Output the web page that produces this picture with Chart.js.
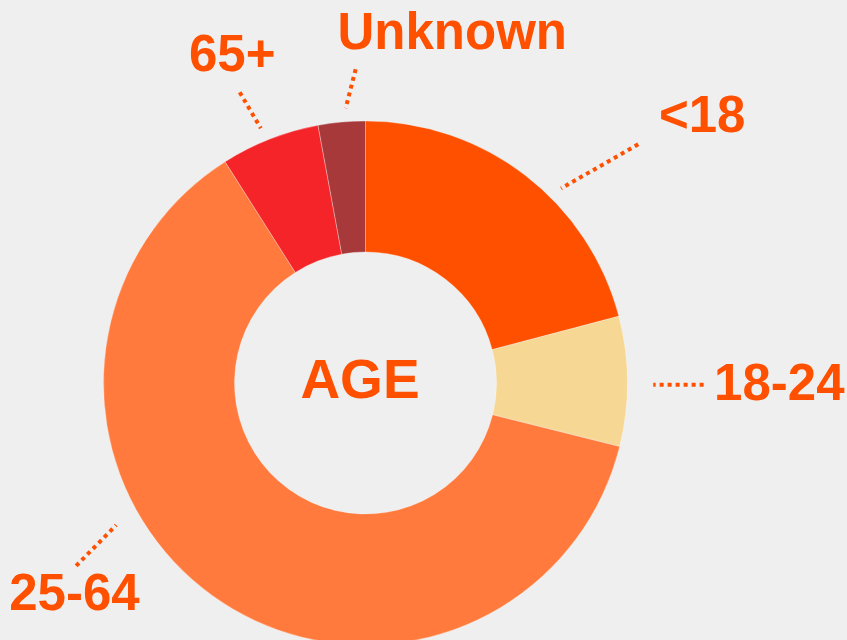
<!DOCTYPE html>
<html>
<head>
<meta charset="utf-8">
<script src="https://cdn.jsdelivr.net/npm/chart.js@4/dist/chart.umd.min.js"></script>
<style>
  html, body { margin: 0; padding: 0; background: #efefef; overflow: hidden; width: 847px; height: 640px; }
  #wrap { position: absolute; left: 0; top: 0; width: 847px; height: 662px; }
</style>
</head>
<body>
<div id="wrap"><canvas id="c"></canvas></div>
<script>
// ---- data ----
const categories = ['<18', '18-24', '25-64', '65+', 'Unknown'];
const shares = [20.9, 8.0, 62.1, 6.1, 2.9];
const sliceColors = ['#ff5000', '#f6d794', '#ff7a3c', '#f42428', '#a8393a'];
const centerTitle = 'AGE';

// ---- label placement (relative to outer radius) ----
const labelLayout = {
  '<18':     { line: [[0.7465, -0.7426], [1.0409, -0.9109]], text: [1.2849, -0.9568] },
  '18-24':   { line: [[1.0983, 0.0069], [1.2906, 0.0069]],  text: [1.5793, 0.0642] },
  '25-64':   { line: [[-0.9514, 0.5423], [-1.1044, 0.6979]], text: [-1.1109, 0.8673] },
  '65+':     { line: [[-0.3996, -0.9721], [-0.4800, -1.1098]], text: [-0.5086, -1.1900] },
  'Unknown': { line: [[-0.0757, -1.0486], [-0.0375, -1.1977]], text: [0.3310, -1.2742] }
};
const textColor = '#ff5000';
const fontFamily = '"Liberation Sans", Arial, Helvetica, sans-serif';

const labelPlugin = {
  id: 'ageLabels',
  afterDraw(chart) {
    const meta = chart.getDatasetMeta(0);
    const arc = meta.data[0];
    if (!arc) return;
    const cx = arc.x, cy = arc.y, R = arc.outerRadius;
    const ctx = chart.ctx;
    ctx.save();
    ctx.fillStyle = textColor;
    ctx.strokeStyle = textColor;
    ctx.textAlign = 'center';
    ctx.textBaseline = 'alphabetic';
    categories.forEach((name) => {
      const L = labelLayout[name];
      ctx.beginPath();
      ctx.setLineDash([4, 4]);
      ctx.lineWidth = 4;
      ctx.moveTo(cx + L.line[1][0] * R, cy + L.line[1][1] * R);
      ctx.lineTo(cx + L.line[0][0] * R, cy + L.line[0][1] * R);
      ctx.stroke();
      ctx.font = 'bold 51px ' + fontFamily;
      ctx.fillText(name, cx + L.text[0] * R, cy + L.text[1] * R);
    });
    ctx.setLineDash([]);
    ctx.font = 'bold 55px ' + fontFamily;
    ctx.fillText(centerTitle, cx - 0.021 * R, cy + 0.0566 * R);
    ctx.restore();
  }
};

new Chart(document.getElementById('c'), {
  type: 'doughnut',
  data: {
    labels: categories,
    datasets: [{
      data: shares,
      backgroundColor: sliceColors,
      borderColor: 'rgba(255,255,255,0.3)',
      borderWidth: 1
    }]
  },
  options: {
    responsive: true,
    maintainAspectRatio: false,
    devicePixelRatio: 1,
    animation: false,
    cutout: '50%',
    layout: { padding: { left: 103, top: 120.5, right: 219, bottom: 16.5 } },
    plugins: { legend: { display: false }, tooltip: { enabled: false } }
  },
  plugins: [labelPlugin]
});
</script>
</body>
</html>
